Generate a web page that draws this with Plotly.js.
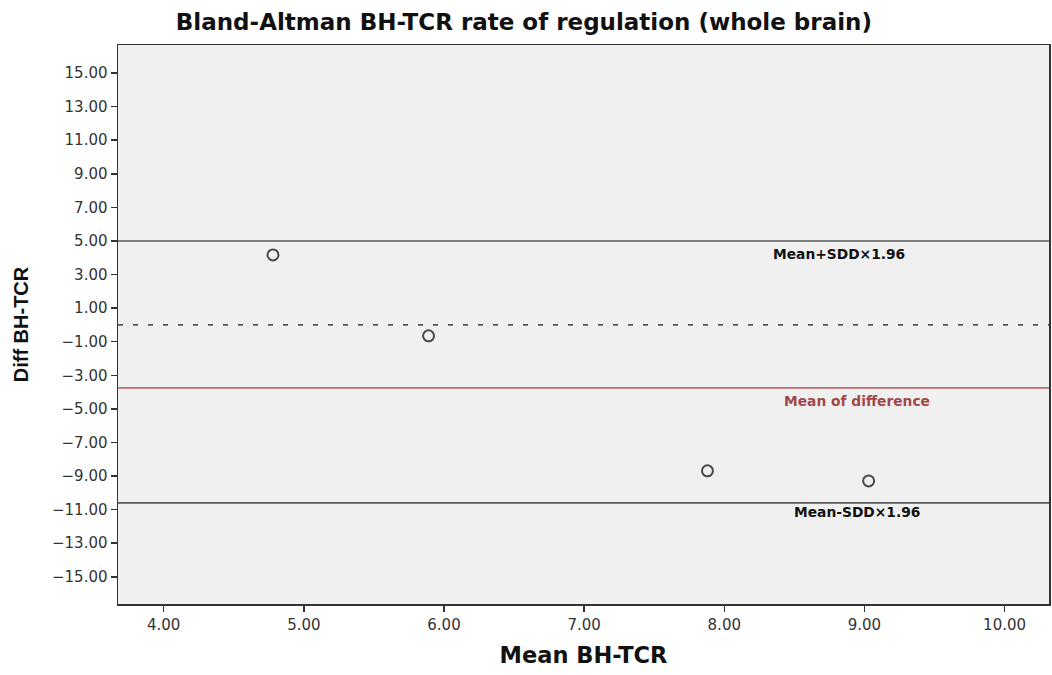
<!DOCTYPE html>
<html>
<head>
<meta charset="utf-8">
<script src="https://cdn.plot.ly/plotly-3.0.1.min.js"></script>
<style>
  html, body { margin: 0; padding: 0; background: #ffffff; }
  #chart { width: 1052px; height: 675px; }
</style>
</head>
<body>
<div id="chart"></div>
<script>
// Data
const meanBH = [4.78, 5.89, 7.88, 9.03];
const diffBH = [4.17, -0.65, -8.69, -9.29];
const meanOfDifference = -3.75;
const upperLimit = 5.0;
const lowerLimit = -10.6;
const zeroLine = 0;
const yTickVals = [15, 13, 11, 9, 7, 5, 3, 1, -1, -3, -5, -7, -9, -11, -13, -15];
const xTickVals = [4, 5, 6, 7, 8, 9, 10];
const labelUpper = "Mean+SDD×1.96";
const labelMean = "Mean of difference";
const labelLower = "Mean-SDD×1.96";

const trace = {
  x: meanBH,
  y: diffBH,
  type: 'scatter',
  mode: 'markers',
  marker: { symbol: 'circle-open', size: 11, color: '#4a4a4a', line: { width: 2, color: '#4a4a4a' } },
  hoverinfo: 'x+y',
  showlegend: false
};

const layout = {
  width: 1052,
  height: 675,
  paper_bgcolor: '#ffffff',
  plot_bgcolor: '#f0f0f0',
  margin: { l: 118, r: 3, t: 45, b: 71 },
  title: {
    text: 'Bland-Altman BH-TCR rate of regulation (whole brain)',
    font: { family: 'DejaVu Sans', size: 23, color: '#111111', weight: 'bold' },
    x: 0.498, xref: 'container', xanchor: 'center',
    y: 0.967, yref: 'container', yanchor: 'middle'
  },
  xaxis: {
    range: [3.674, 10.317],
    tickvals: xTickVals,
    tickformat: '.2f',
    ticks: 'outside', ticklen: 6, tickwidth: 1.5, tickcolor: '#333333',
    showline: true, mirror: true, linecolor: '#333333', linewidth: 1.5,
    showgrid: false, zeroline: false,
    tickfont: { family: 'DejaVu Sans', size: 15, color: '#333333' },
    title: { text: 'Mean BH-TCR', standoff: 14,
      font: { family: 'DejaVu Sans', size: 22.5, color: '#111111', weight: 'bold' } }
  },
  yaxis: {
    range: [-16.62, 16.67],
    tickvals: yTickVals,
    tickformat: '.2f',
    ticks: 'outside', ticklen: 6, tickwidth: 1.5, tickcolor: '#333333',
    showline: true, mirror: true, linecolor: '#333333', linewidth: 1.5,
    showgrid: false, zeroline: false,
    tickfont: { family: 'DejaVu Sans', size: 15, color: '#333333' },
    title: { text: 'Diff BH-TCR', standoff: 18,
      font: { family: 'Liberation Sans', size: 20, color: '#111111', weight: 'bold' } }
  },
  shapes: [
    { type: 'line', xref: 'paper', x0: 0, x1: 1, yref: 'y', y0: upperLimit, y1: upperLimit,
      line: { color: '#5a5a5a', width: 1.6 } },
    { type: 'line', xref: 'paper', x0: 0, x1: 1, yref: 'y', y0: zeroLine, y1: zeroLine,
      line: { color: '#555555', width: 1.8, dash: '5px,10px' } },
    { type: 'line', xref: 'paper', x0: 0, x1: 1, yref: 'y', y0: meanOfDifference, y1: meanOfDifference,
      line: { color: '#c46a6a', width: 1.6 } },
    { type: 'line', xref: 'paper', x0: 0, x1: 1, yref: 'y', y0: lowerLimit, y1: lowerLimit,
      line: { color: '#5a5a5a', width: 1.6 } }
  ],
  annotations: [
    { x: 8.82, y: upperLimit, xref: 'x', yref: 'y', text: labelUpper, showarrow: false,
      xanchor: 'center', yanchor: 'middle', yshift: -13,
      font: { family: 'DejaVu Sans', size: 13.8, color: '#111111', weight: 'bold' } },
    { x: 8.95, y: meanOfDifference, xref: 'x', yref: 'y', text: labelMean, showarrow: false,
      xanchor: 'center', yanchor: 'middle', yshift: -13,
      font: { family: 'DejaVu Sans', size: 13.8, color: '#a04848', weight: 'bold' } },
    { x: 8.95, y: lowerLimit, xref: 'x', yref: 'y', text: labelLower, showarrow: false,
      xanchor: 'center', yanchor: 'middle', yshift: -9,
      font: { family: 'DejaVu Sans', size: 13.8, color: '#111111', weight: 'bold' } }
  ]
};

Plotly.newPlot('chart', [trace], layout, { displayModeBar: false, staticPlot: true });
</script>
</body>
</html>
